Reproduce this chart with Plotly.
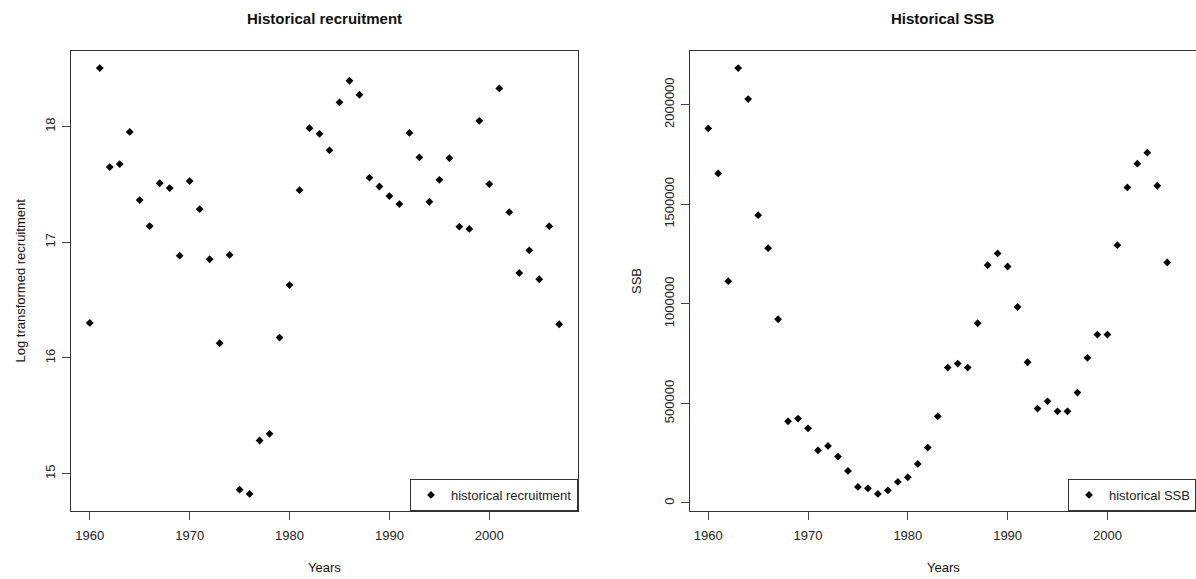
import plotly.graph_objects as go

years_rec = list(range(1960, 2008))
log_recruitment = [
    16.303, 18.506, 17.65, 17.676, 17.954, 17.365, 17.14, 17.51, 17.468, 16.884,
    17.529, 17.286, 16.853, 16.127, 16.89, 14.861, 14.824, 15.286, 15.344, 16.176,
    16.63, 17.45, 17.986, 17.937, 17.795, 18.21, 18.396, 18.275, 17.558, 17.482,
    17.399, 17.33, 17.945, 17.734, 17.35, 17.54, 17.728, 17.135, 17.115, 18.05,
    17.503, 18.33, 17.26, 16.734, 16.93, 16.68, 17.139, 16.291,
]

years_ssb = list(range(1960, 2007))
ssb = [
    1880900, 1654700, 1113600, 2183900, 2028100, 1445200, 1279400, 922600, 410000, 423600,
    374900, 264300, 286400, 232700, 160800, 80400, 73400, 45200, 63300, 105500,
    128600, 196000, 277900, 435200, 679900, 700000, 679900, 902500, 1194000, 1252800,
    1187400, 984000, 706500, 473900, 510600, 460300, 460300, 554300, 728600, 845700,
    845700, 1294500, 1584400, 1703500, 1758800, 1592900, 1207500,
]

x_ticks = [1960, 1970, 1980, 1990, 2000]
rec_ticks = [15, 16, 17, 18]
ssb_ticks = [0, 500000, 1000000, 1500000, 2000000]

W, H = 1196, 579
FONT = "Liberation Sans, Arial, sans-serif"

def px_x(p):
    return p / W

def px_y(p):
    return (H - p) / H

fig = go.Figure()

fig.add_trace(go.Scatter(
    x=years_rec, y=log_recruitment, mode="markers",
    marker=dict(symbol="diamond", size=6, color="black"),
    name="historical recruitment", xaxis="x", yaxis="y", legend="legend",
))
fig.add_trace(go.Scatter(
    x=years_ssb, y=ssb, mode="markers",
    marker=dict(symbol="diamond", size=6, color="black"),
    name="historical SSB", xaxis="x2", yaxis="y2", legend="legend2",
))

def pad_range(vals):
    lo, hi = min(vals), max(vals)
    d = (hi - lo) * 0.04
    return [lo - d, hi + d]

xr = pad_range(years_rec)
axis_common = dict(
    showgrid=False, zeroline=False, ticks="outside", ticklen=8, tickwidth=1,
    tickcolor="#444", showline=True, linecolor="#333", linewidth=1,
    tickfont=dict(family=FONT, size=13, color="#222"),
)

L0, L1 = px_x(71), px_x(578)
R0, R1 = px_x(689.5), 1.0
Y0, Y1 = px_y(511), px_y(51)
RC = px_x(689.5 + 253.5)

fig.update_layout(
    width=W, height=H, autosize=False,
    margin=dict(l=0, r=0, t=0, b=0),
    paper_bgcolor="white", plot_bgcolor="white",
    font=dict(family=FONT, size=13, color="#222"),
    xaxis=dict(domain=[L0, L1], range=xr, tickvals=x_ticks, mirror=True,
               anchor="y", ticklabelstandoff=4, **axis_common),
    yaxis=dict(domain=[Y0, Y1], range=pad_range(log_recruitment), tickvals=rec_ticks,
               tickangle=-90, mirror=True, anchor="x", ticklabelstandoff=2, **axis_common),
    xaxis2=dict(domain=[R0, R1], range=xr, tickvals=x_ticks, mirror=True,
                anchor="y2", ticklabelstandoff=4, **axis_common),
    yaxis2=dict(domain=[Y0, Y1], range=pad_range(ssb), tickvals=ssb_ticks,
                tickformat="d", tickangle=-90, mirror=False, anchor="x2",
                ticklabelstandoff=1, **axis_common),
    legend=dict(x=L1, xanchor="right", y=Y0, yanchor="bottom",
                bordercolor="#333", borderwidth=1, bgcolor="white",
                font=dict(family=FONT, size=13, color="#222"), itemwidth=30),
    legend2=dict(x=R1, xanchor="right", y=Y0, yanchor="bottom",
                 bordercolor="#333", borderwidth=1, bgcolor="white",
                 font=dict(family=FONT, size=13, color="#222"), itemwidth=30),
    showlegend=True,
)

ann = [
    dict(text="<b>Historical recruitment</b>", x=(L0 + L1) / 2, y=px_y(18), size=15, angle=0),
    dict(text="<b>Historical SSB</b>", x=RC, y=px_y(18), size=15, angle=0),
    dict(text="Years", x=(L0 + L1) / 2, y=px_y(567), size=13, angle=0),
    dict(text="Years", x=RC, y=px_y(567), size=13, angle=0),
    dict(text="Log transformed recruitment", x=px_x(19.5), y=(Y0 + Y1) / 2, size=13, angle=-90),
    dict(text="SSB", x=px_x(636), y=(Y0 + Y1) / 2, size=13, angle=-90),
]
for a in ann:
    fig.add_annotation(text=a["text"], x=a["x"], y=a["y"], xref="paper", yref="paper",
                       xanchor="center", yanchor="middle", showarrow=False,
                       textangle=a["angle"],
                       font=dict(family=FONT, size=a["size"], color="#111"))

fig.write_html("out.html", config={"displayModeBar": False},
               post_script="document.body.style.margin='0';document.body.style.overflow='hidden';")
